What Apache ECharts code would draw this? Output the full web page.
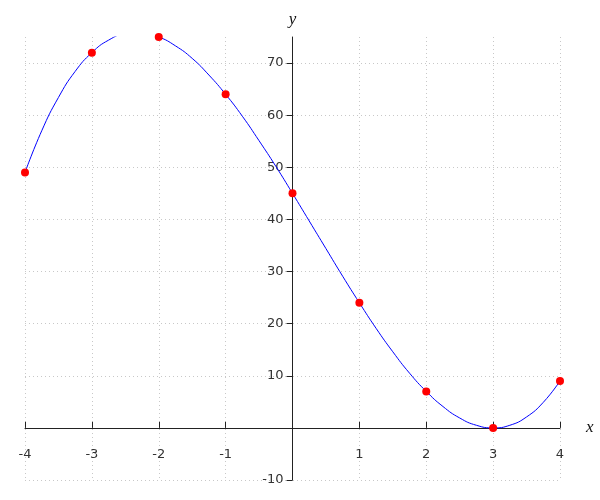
<!DOCTYPE html>
<html>
<head>
<meta charset="utf-8">
<script src="https://cdn.jsdelivr.net/npm/echarts@6/dist/echarts.min.js"></script>
<style>html,body{margin:0;padding:0;background:#fff}#c{width:600px;height:500px}</style>
</head>
<body>
<div id="c"></div>
<script>
// Red data points
const pointX = [-4, -3, -2, -1, 0, 1, 2, 3, 4];
const pointY = [49, 72, 75, 64, 45, 24, 7, 0, 9];
// Blue curve at quarter steps (it leaves the top of the plot near x=-2.65)
const curveX = [-4, -3.75, -3.5, -3.25, -3, -2.75, -2.5, -2.25, -2, -1.75, -1.5, -1.25, -1, -0.75, -0.5, -0.25,
                0, 0.25, 0.5, 0.75, 1, 1.25, 1.5, 1.75, 2, 2.25, 2.5, 2.75, 3, 3.25, 3.5, 3.75, 4];
const curveY = [49, 57.0, 63.4, 68.4, 72, 74.4, 75.6, 75.8, 75, 73.3, 70.9, 67.7, 64, 59.8, 55.1, 50.2,
                45, 39.7, 34.4, 29.1, 24, 19.1, 14.6, 10.5, 7, 4.1, 1.9, 0.5, 0, 0.5, 2.1, 4.9, 9];
// Ticks and labels
const xTickValues = [-4, -3, -2, -1, 0, 1, 2, 3, 4];
const xLabelValues = [-4, -3, -2, -1, 1, 2, 3, 4];
const yTickValues = [-10, 0, 10, 20, 30, 40, 50, 60, 70];
const yLabelValues = [-10, 10, 20, 30, 40, 50, 60, 70];

const X_MIN = -4, X_MAX = 4, Y_MIN = -10, Y_MAX = 75;
const G = {left: 25, right: 40, top: 37, bottom: 20};
const W = 600, H = 500;
const plotW = W - G.left - G.right, plotH = H - G.top - G.bottom;
// move the axes onto the zero lines (labels and ticks included)
const xAxisOffset = -(0 - Y_MIN) / (Y_MAX - Y_MIN) * plotH;
const yAxisOffset = -(0 - X_MIN) / (X_MAX - X_MIN) * plotW;

const chart = echarts.init(document.getElementById('c'), null, {renderer: 'canvas'});
const gridLine = {show: true, lineStyle: {color: '#c8c8c8', type: [1, 3], width: 1}};
chart.setOption({
  animation: false,
  grid: Object.assign({containLabel: false, outerBoundsMode: 'none'}, G),
  xAxis: {
    type: 'value', min: X_MIN, max: X_MAX, position: 'bottom', offset: xAxisOffset,
    name: 'x', nameLocation: 'end', nameGap: 26,
    nameTextStyle: {fontFamily: 'Liberation Serif', fontStyle: 'italic', fontSize: 17, color: '#111', verticalAlign: 'middle', padding: [6, 0, 0, 0]},
    axisLine: {onZero: false, lineStyle: {color: '#222', width: 1}},
    axisTick: {show: true, inside: true, length: 6, lineStyle: {color: '#222'}, customValues: xTickValues},
    axisLabel: {customValues: xLabelValues, margin: 20, fontFamily: 'DejaVu Sans', fontSize: 13, color: '#333'},
    splitLine: gridLine
  },
  yAxis: {
    type: 'value', min: Y_MIN, max: Y_MAX, position: 'left', offset: yAxisOffset,
    name: 'y', nameLocation: 'end', nameGap: 9,
    nameTextStyle: {fontFamily: 'Liberation Serif', fontStyle: 'italic', fontSize: 17, color: '#111'},
    axisLine: {onZero: false, lineStyle: {color: '#222', width: 1}},
    axisTick: {show: true, inside: false, length: 6, lineStyle: {color: '#222'}, customValues: yTickValues},
    axisLabel: {customValues: yLabelValues, margin: 9, fontFamily: 'DejaVu Sans', fontSize: 13, color: '#333'},
    splitLine: gridLine
  },
  series: [{
    type: 'line',
    data: curveX.map((x, i) => [x, curveY[i]]),
    smooth: true,
    clip: true,
    showSymbol: false,
    lineStyle: {color: '#0000ff', width: 1}
  }, {
    type: 'scatter',
    data: pointX.map((x, i) => [x, pointY[i]]),
    clip: false,
    symbol: 'circle',
    symbolSize: 8,
    itemStyle: {color: '#ff0000', opacity: 1},
    z: 5
  }]
});
</script>
</body>
</html>
